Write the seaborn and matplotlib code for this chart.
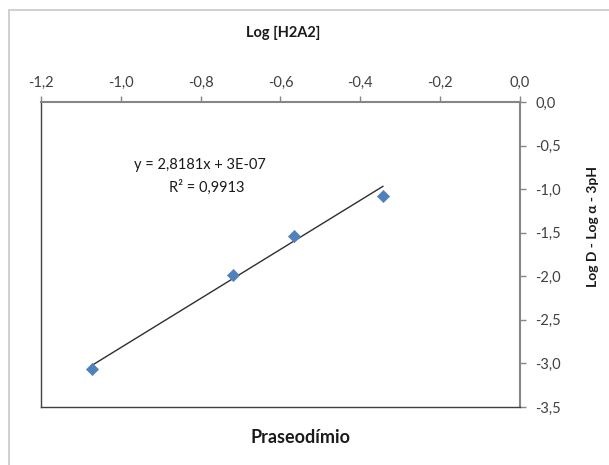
import matplotlib
matplotlib.use("Agg")
import matplotlib.pyplot as plt
import seaborn as sns
import numpy as np
import pandas as pd
from matplotlib.ticker import FuncFormatter, MultipleLocator
from matplotlib.patches import Rectangle

log_h2a2 = [-1.073, -0.719, -0.566, -0.343]
log_d = [-3.06, -1.98, -1.54, -1.08]
slope = 2.8181
intercept = 3e-07
r2 = 0.9913

sns.set_theme(style="white")
plt.rcParams['font.family'] = ['Lato', 'DejaVu Sans']

fig = plt.figure(figsize=(6.09, 4.65), dpi=100)
ax = fig.add_axes([41/609, 1-407/465, (520-41)/609, (407-102)/465])

df = pd.DataFrame({"x": log_h2a2, "y": log_d})
xs = np.array([min(log_h2a2), max(log_h2a2)])
fit = pd.DataFrame({"x": xs, "y": slope*xs + intercept})
sns.lineplot(data=fit, x="x", y="y", ax=ax, color="#2e2e2e", lw=1.0, zorder=2)
sns.scatterplot(data=df, x="x", y="y", ax=ax, marker="D", s=38, color="#4F81BD",
                edgecolor="#4F81BD", zorder=3)

ax.set_xlim(-1.2, 0.0)
ax.set_ylim(-3.5, 0.0)
ax.xaxis.set_major_locator(MultipleLocator(0.2))
ax.yaxis.set_major_locator(MultipleLocator(0.5))
fmt = FuncFormatter(lambda v, p: f"{v:.1f}".replace('.', ',').replace('-0,0', '0,0'))
ax.xaxis.set_major_formatter(fmt)
ax.yaxis.set_major_formatter(fmt)
ax.xaxis.tick_top()
ax.yaxis.tick_right()
ax.tick_params(axis='x', which='major', direction='out', length=4, width=1, color="#868686",
               labelsize=10.5, labelcolor="#404040", pad=5, top=True, bottom=False)
ax.tick_params(axis='y', which='major', direction='out', length=4, width=1, color="#868686",
               labelsize=10.5, labelcolor="#404040", pad=7, right=True, left=False)
for side in ['left', 'bottom']:
    ax.spines[side].set_color("#404040")
    ax.spines[side].set_linewidth(1.0)
for side in ['top', 'right']:
    ax.spines[side].set_color("#868686")
    ax.spines[side].set_linewidth(1.5)

ax.set_xlabel("")
ax.set_ylabel("")
fig.text(283/609, 1-33/465, "Log [H2A2]", ha='center', va='center', fontsize=10.5,
         fontweight='bold', color="#1a1a1a")
fig.text(593/609, 1-226/465, "Log D - Log α - 3pH", ha='center', va='center', fontsize=10,
         fontweight='bold', rotation=90, color="#1a1a1a")
fig.text(300/609, 1-437/465, "Praseodímio", ha='center', va='center', fontsize=13,
         fontweight='bold', color="#1a1a1a")
eq = f"y = {slope:.4f}".replace('.', ',') + "x + 3E-07"
fig.text(200/609, 1-165/465, eq, ha='center', va='center', fontsize=10.5, color="#1a1a1a")
fig.text(207/609, 1-187/465, "R² = " + f"{r2:.4f}".replace('.', ','), ha='center',
         va='center', fontsize=10.5, color="#1a1a1a")

fig.patches.append(Rectangle((9/609, -0.05), 1.1, 1 - 10/465 + 0.05, transform=fig.transFigure,
                             fill=False, edgecolor="#c8c8c8", lw=1.2, clip_on=False))
fig.savefig("out.png", dpi=100)
